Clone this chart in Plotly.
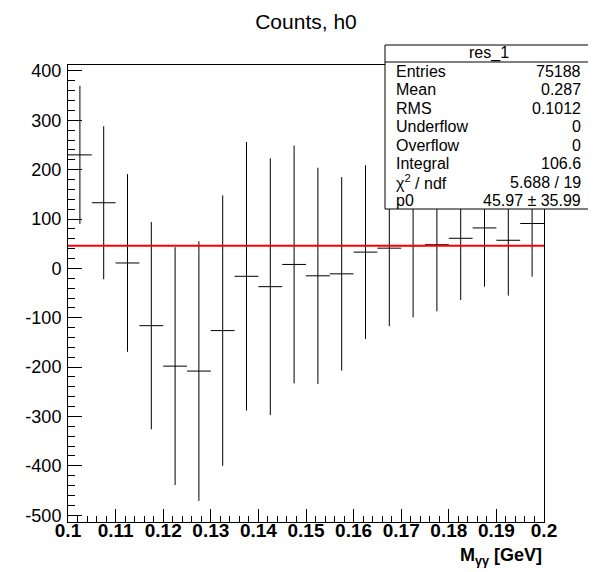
import plotly.graph_objects as go

# ---- data ----
bin_centers = [0.1025, 0.1075, 0.1125, 0.1175, 0.1225, 0.1275, 0.1325, 0.1375, 0.1425, 0.1475,
               0.1525, 0.1575, 0.1625, 0.1675, 0.1725, 0.1775, 0.1825, 0.1875, 0.1925, 0.1975]
bin_half_width = [0.0025] * 20
counts = [230, 133, 11, -116, -198, -208, -126, -16, -37, 8,
          -15, -11, 33, 41, 46, 48, 61, 82, 57, 91]
errors = [140, 155, 180, 210, 241, 263, 274, 272, 260, 241,
          219, 196, 176, 158, 145, 135, 125, 119, 112, 108]
fit_x = [0.1, 0.2]
fit_p0 = 45.97

x_tickvals = [0.1, 0.11, 0.12, 0.13, 0.14, 0.15, 0.16, 0.17, 0.18, 0.19, 0.2]
x_ticktext = ["0.1", "0.11", "0.12", "0.13", "0.14", "0.15", "0.16", "0.17", "0.18", "0.19", "0.2"]
y_tickvals = [-500, -400, -300, -200, -100, 0, 100, 200, 300, 400]
y_ticktext = ["-500", "-400", "-300", "-200", "-100", "0", "100", "200", "300", "400"]

stats_title = "res_1"
stats_labels = ["Entries", "Mean", "RMS", "Underflow", "Overflow", "Integral", "χ<sup>2</sup> / ndf", "p0"]
stats_values = ["75188", "0.287", "0.1012", "0", "0", "106.6", "5.688 / 19", "45.97 ± 35.99"]

# ---- layout geometry (pixels) ----
W_FIG, H_FIG = 596, 572
ML, MR, MT, MB = 60, 60, 57, 58
PW = W_FIG - ML - MR
PH = H_FIG - MT - MB


def px_x(px):
    return (px - ML) / PW


def px_y(py):
    return (H_FIG - MB - py) / PH


FONT = "Liberation Sans, Arial, Helvetica, sans-serif"

fig = go.Figure()

fig.add_trace(go.Scatter(
    x=bin_centers, y=counts, mode="markers",
    marker=dict(size=1, color="rgba(0,0,0,0)"),
    error_y=dict(type="data", array=errors, symmetric=True, width=0, thickness=1, color="black"),
    error_x=dict(type="data", array=bin_half_width, symmetric=True, width=0, thickness=1, color="black"),
    showlegend=False, hoverinfo="x+y",
))

fig.add_trace(go.Scatter(
    x=fit_x, y=[fit_p0] * len(fit_x), mode="lines",
    line=dict(color="#ff0000", width=2),
    showlegend=False,
))

# stats box
bx0, bx1, by0, by1 = 377, 584, 37, 201
shapes = [
    dict(type="rect", xref="paper", yref="paper", x0=px_x(bx0), x1=px_x(bx1), y0=px_y(by1), y1=px_y(by0),
         line=dict(color="black", width=1), fillcolor="white", layer="above"),
    dict(type="line", xref="paper", yref="paper", x0=px_x(bx0), x1=px_x(bx1), y0=px_y(54), y1=px_y(54),
         line=dict(color="black", width=1), layer="above"),
]

annotations = [
    dict(text=stats_title, xref="paper", yref="paper", x=px_x((bx0 + bx1) / 2), y=px_y(45.5),
         xanchor="center", yanchor="middle", showarrow=False, font=dict(family=FONT, size=16, color="black")),
]
row_y = [63.3, 82, 100.3, 118.8, 137.2, 155.6, 174, 192.3]
for lab, val, ry in zip(stats_labels, stats_values, row_y):
    annotations.append(dict(text=lab, xref="paper", yref="paper", x=px_x(386), y=px_y(ry),
                            xanchor="left", yanchor="middle", showarrow=False,
                            font=dict(family=FONT, size=16, color="black")))
    annotations.append(dict(text=val, xref="paper", yref="paper", x=px_x(575), y=px_y(ry),
                            xanchor="right", yanchor="middle", showarrow=False,
                            font=dict(family=FONT, size=16, color="black")))

# x axis title
annotations.append(dict(text="<b>M<sub>γγ</sub> [GeV]</b>", xref="paper", yref="paper",
                        x=px_x(536), y=px_y(548), xanchor="right", yanchor="middle", showarrow=False,
                        font=dict(family=FONT, size=18, color="black")))

fig.update_layout(
    width=W_FIG, height=H_FIG,
    margin=dict(l=ML, r=MR, t=MT, b=MB),
    paper_bgcolor="white", plot_bgcolor="white",
    title=dict(text="Counts, h0", x=0.5, xanchor="center", xref="container",
               y=1 - 13.5 / H_FIG, yanchor="middle", yref="container",
               font=dict(family=FONT, size=21, color="black")),
    shapes=shapes, annotations=annotations,
)

fig.update_xaxes(
    range=[0.1, 0.2], showgrid=False, zeroline=False,
    showline=True, linecolor="black", linewidth=1, mirror=True,
    tickmode="array", tickvals=x_tickvals, ticktext=x_ticktext,
    ticks="inside", ticklen=13, tickcolor="black", tickwidth=1,
    minor=dict(tickmode="linear", tick0=0.1, dtick=0.002, ticks="inside", ticklen=6, tickcolor="black", showgrid=False),
    tickfont=dict(family=FONT, size=19, color="black", weight="bold"),
    ticklabelstandoff=-9,
)
fig.update_yaxes(
    range=[-513.8, 412.1], showgrid=False, zeroline=False,
    showline=True, linecolor="black", linewidth=1, mirror=True,
    tickmode="array", tickvals=y_tickvals, ticktext=y_ticktext,
    ticks="inside", ticklen=14, tickcolor="black", tickwidth=1,
    minor=dict(tickmode="linear", tick0=0, dtick=20, ticks="inside", ticklen=7, tickcolor="black", showgrid=False),
    tickfont=dict(family=FONT, size=18, color="black"),
    ticklabelstandoff=2,
)

fig.write_html("out.html")
